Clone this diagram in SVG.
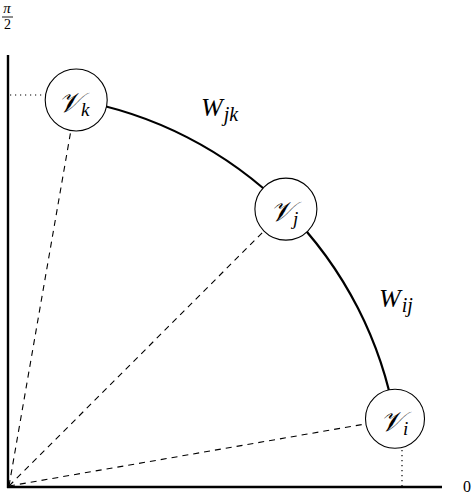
<svg xmlns="http://www.w3.org/2000/svg" width="476" height="494" viewBox="0 0 476 494">
<style>
.axis{stroke:#000;stroke-width:2.4;fill:none}
.dash{stroke:#000;stroke-width:1.1;stroke-dasharray:6 5;fill:none}
.dot{stroke:#000;stroke-width:1.2;stroke-dasharray:1.2 3.8;fill:none}
.arc{stroke:#000;stroke-width:2.2;fill:none}
.node{fill:#fff;stroke:#000;stroke-width:1.1}
text{fill:#000}
</style>
<rect width="476" height="494" fill="#fff"/>
<g id="axes">
<line class="axis" x1="8" y1="55" x2="8" y2="488"/>
<line class="axis" x1="7" y1="487" x2="442" y2="487"/>
<text x="7" y="13" font-size="15" text-anchor="middle" font-family="'Liberation Serif', 'Times New Roman', serif" font-style="italic">π</text>
<line x1="2" y1="17" x2="13" y2="17" stroke="#000" stroke-width="0.9"/>
<text x="7.5" y="29" font-size="14" text-anchor="middle" font-family="'Liberation Serif', 'Times New Roman', serif">2</text>
<text x="463" y="492" font-size="16" font-family="'Liberation Serif', 'Times New Roman', serif">0</text>
</g>
<g id="connectors">
<line class="dash" x1="9" y1="486" x2="76.2" y2="100"/>
<line class="dash" x1="9" y1="486" x2="285.9" y2="209.1"/>
<line class="dash" x1="9" y1="486" x2="395" y2="418.8"/>
<line class="dot" x1="10" y1="95" x2="46" y2="95"/>
<line class="dot" x1="402" y1="450" x2="402" y2="486"/>
<path class="arc" d="M76.2 100 A393 393 0 0 1 395 418.8"/>
<text x="201" y="116" font-size="26" font-style="italic" font-family="'Liberation Serif', 'Times New Roman', serif">W<tspan font-size="20" dy="5" dx="1">jk</tspan></text>
<text x="379" y="307" font-size="26" font-style="italic" font-family="'Liberation Serif', 'Times New Roman', serif">W<tspan font-size="20" dy="5" dx="1">ij</tspan></text>
</g>
<g id="Vk">
<circle class="node" cx="76.2" cy="100" r="31"/>
<text x="58" y="112" font-size="28" font-style="italic" font-family="'Liberation Serif', 'Times New Roman', serif">𝒱<tspan font-size="19" dy="4">k</tspan></text>
</g>
<g id="Vj">
<circle class="node" cx="285.9" cy="209.1" r="31"/>
<text x="270" y="221" font-size="28" font-style="italic" font-family="'Liberation Serif', 'Times New Roman', serif">𝒱<tspan font-size="19" dy="4">j</tspan></text>
</g>
<g id="Vi">
<circle class="node" cx="395" cy="418.8" r="29.5"/>
<text x="380" y="431" font-size="28" font-style="italic" font-family="'Liberation Serif', 'Times New Roman', serif">𝒱<tspan font-size="19" dy="4">i</tspan></text>
</g>
</svg>
